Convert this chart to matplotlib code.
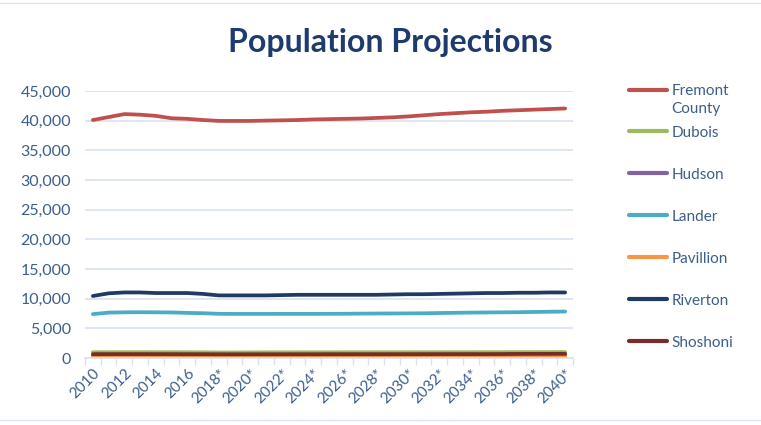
import numpy as np
import matplotlib.pyplot as plt
from matplotlib.lines import Line2D
from matplotlib.ticker import FuncFormatter

YEARS = list(range(2010, 2041))
YEAR_LABELS = [str(y) if y <= 2016 else f"{y}*" for y in YEARS]

FREMONT = [40100, 40600, 41100, 41000, 40800, 40400, 40300, 40100, 39950, 39950,
           39950, 40000, 40050, 40100, 40200, 40250, 40300, 40350, 40450, 40550,
           40700, 40900, 41100, 41250, 41400, 41500, 41650, 41750, 41850, 41950, 42050]
DUBOIS = [980, 985, 990, 990, 985, 980, 975, 960, 930, 930,
          950, 955, 960, 960, 965, 965, 970, 970, 970, 975,
          975, 980, 980, 985, 985, 990, 990, 995, 1000, 1000, 1005]
HUDSON = [460, 460, 465, 465, 460, 460, 455, 450, 445, 445,
          445, 450, 450, 450, 455, 455, 455, 455, 460, 460,
          460, 465, 465, 470, 470, 470, 475, 475, 480, 480, 485]
LANDER = [7400, 7650, 7700, 7720, 7700, 7680, 7600, 7550, 7450, 7430,
          7430, 7430, 7440, 7440, 7440, 7450, 7460, 7480, 7500, 7510,
          7520, 7540, 7580, 7620, 7650, 7680, 7700, 7720, 7760, 7800, 7830]
PAVILLION = [230, 232, 235, 235, 234, 232, 230, 228, 225, 225,
             225, 226, 227, 228, 229, 230, 231, 232, 233, 234,
             235, 236, 237, 238, 239, 240, 241, 242, 243, 244, 245]
RIVERTON = [10450, 10900, 11050, 11050, 10950, 10950, 10950, 10800, 10550, 10550,
            10550, 10550, 10600, 10650, 10650, 10650, 10650, 10650, 10650, 10700,
            10750, 10750, 10800, 10850, 10900, 10950, 10950, 11000, 11000, 11050, 11050]
SHOSHONI = [650, 655, 660, 660, 655, 650, 645, 640, 630, 630,
            630, 632, 634, 636, 638, 640, 642, 644, 646, 648,
            650, 652, 654, 656, 658, 660, 670, 690, 700, 705, 710]

# legend shows "Fremont" with "County" wrapped on the next line
SERIES = [
    ("Fremont", FREMONT, "#C0504D"),
    ("Dubois", DUBOIS, "#9BBB59"),
    ("Hudson", HUDSON, "#8064A2"),
    ("Lander", LANDER, "#4BACC6"),
    ("Pavillion", PAVILLION, "#F79646"),
    ("Riverton", RIVERTON, "#1F3B63"),
    ("Shoshoni", SHOSHONI, "#772C2A"),
]

TEXT_COLOR = "#3B5E8C"
GRID_COLOR = "#D9E2F1"

plt.rcParams["font.family"] = ["Lato", "DejaVu Sans"]

fig = plt.figure(figsize=(7.61, 4.25), dpi=100)
ax = fig.add_axes([0.1117, 0.1576, 0.6413, 0.6284])

x = np.arange(len(YEARS))
for name, vals, color in SERIES:
    ax.plot(x, vals, color=color, lw=2.7, label=name, solid_capstyle="round")

ax.set_xlim(-0.5, len(YEARS) - 0.5)
ax.set_ylim(0, 45000)
ax.set_yticks(np.arange(0, 45001, 5000))
ax.yaxis.set_major_formatter(FuncFormatter(lambda v, p: f"{int(v):,}"))
ax.grid(axis="y", color=GRID_COLOR, lw=1.2)
ax.set_axisbelow(True)

ax.set_xticks(x[::2])
ax.set_xticklabels(YEAR_LABELS[::2], rotation=45, ha="right", rotation_mode="anchor")
ax.set_xticks(np.arange(-0.5, len(YEARS)), minor=True)
ax.tick_params(axis="x", which="major", length=0, pad=6, labelsize=11, colors=TEXT_COLOR)
ax.tick_params(axis="x", which="minor", length=5, color=GRID_COLOR, width=1)
ax.tick_params(axis="y", length=0, pad=10, labelsize=11.5, colors=TEXT_COLOR)

for s in ["top", "right", "left"]:
    ax.spines[s].set_visible(False)
ax.spines["bottom"].set_color(GRID_COLOR)
ax.spines["bottom"].set_linewidth(1.2)

fig.text(0.513, 0.9, "Population Projections", ha="center", va="center",
         fontsize=23, fontweight="bold", color="#1F3B6E")

leg = fig.legend(loc="upper left", bbox_to_anchor=(0.818, 0.817), frameon=False,
                 fontsize=11, labelcolor=TEXT_COLOR, handlelength=2.5,
                 handletextpad=0.3, labelspacing=1.83, borderaxespad=0)
for line in leg.get_lines():
    line.set_linewidth(3)

fig.canvas.draw()
first = leg.get_texts()[0]
bb = first.get_window_extent().transformed(fig.transFigure.inverted())
fig.text(bb.x0, bb.y0 - 0.01, "County", ha="left", va="top",
         fontsize=11, color=TEXT_COLOR)

fig.add_artist(Line2D([0.0, 1.0], [0.993, 0.993], color=GRID_COLOR, lw=1))
fig.add_artist(Line2D([0.0, 1.0], [0.012, 0.012], color=GRID_COLOR, lw=1))

fig.savefig("out.png", dpi=100)
